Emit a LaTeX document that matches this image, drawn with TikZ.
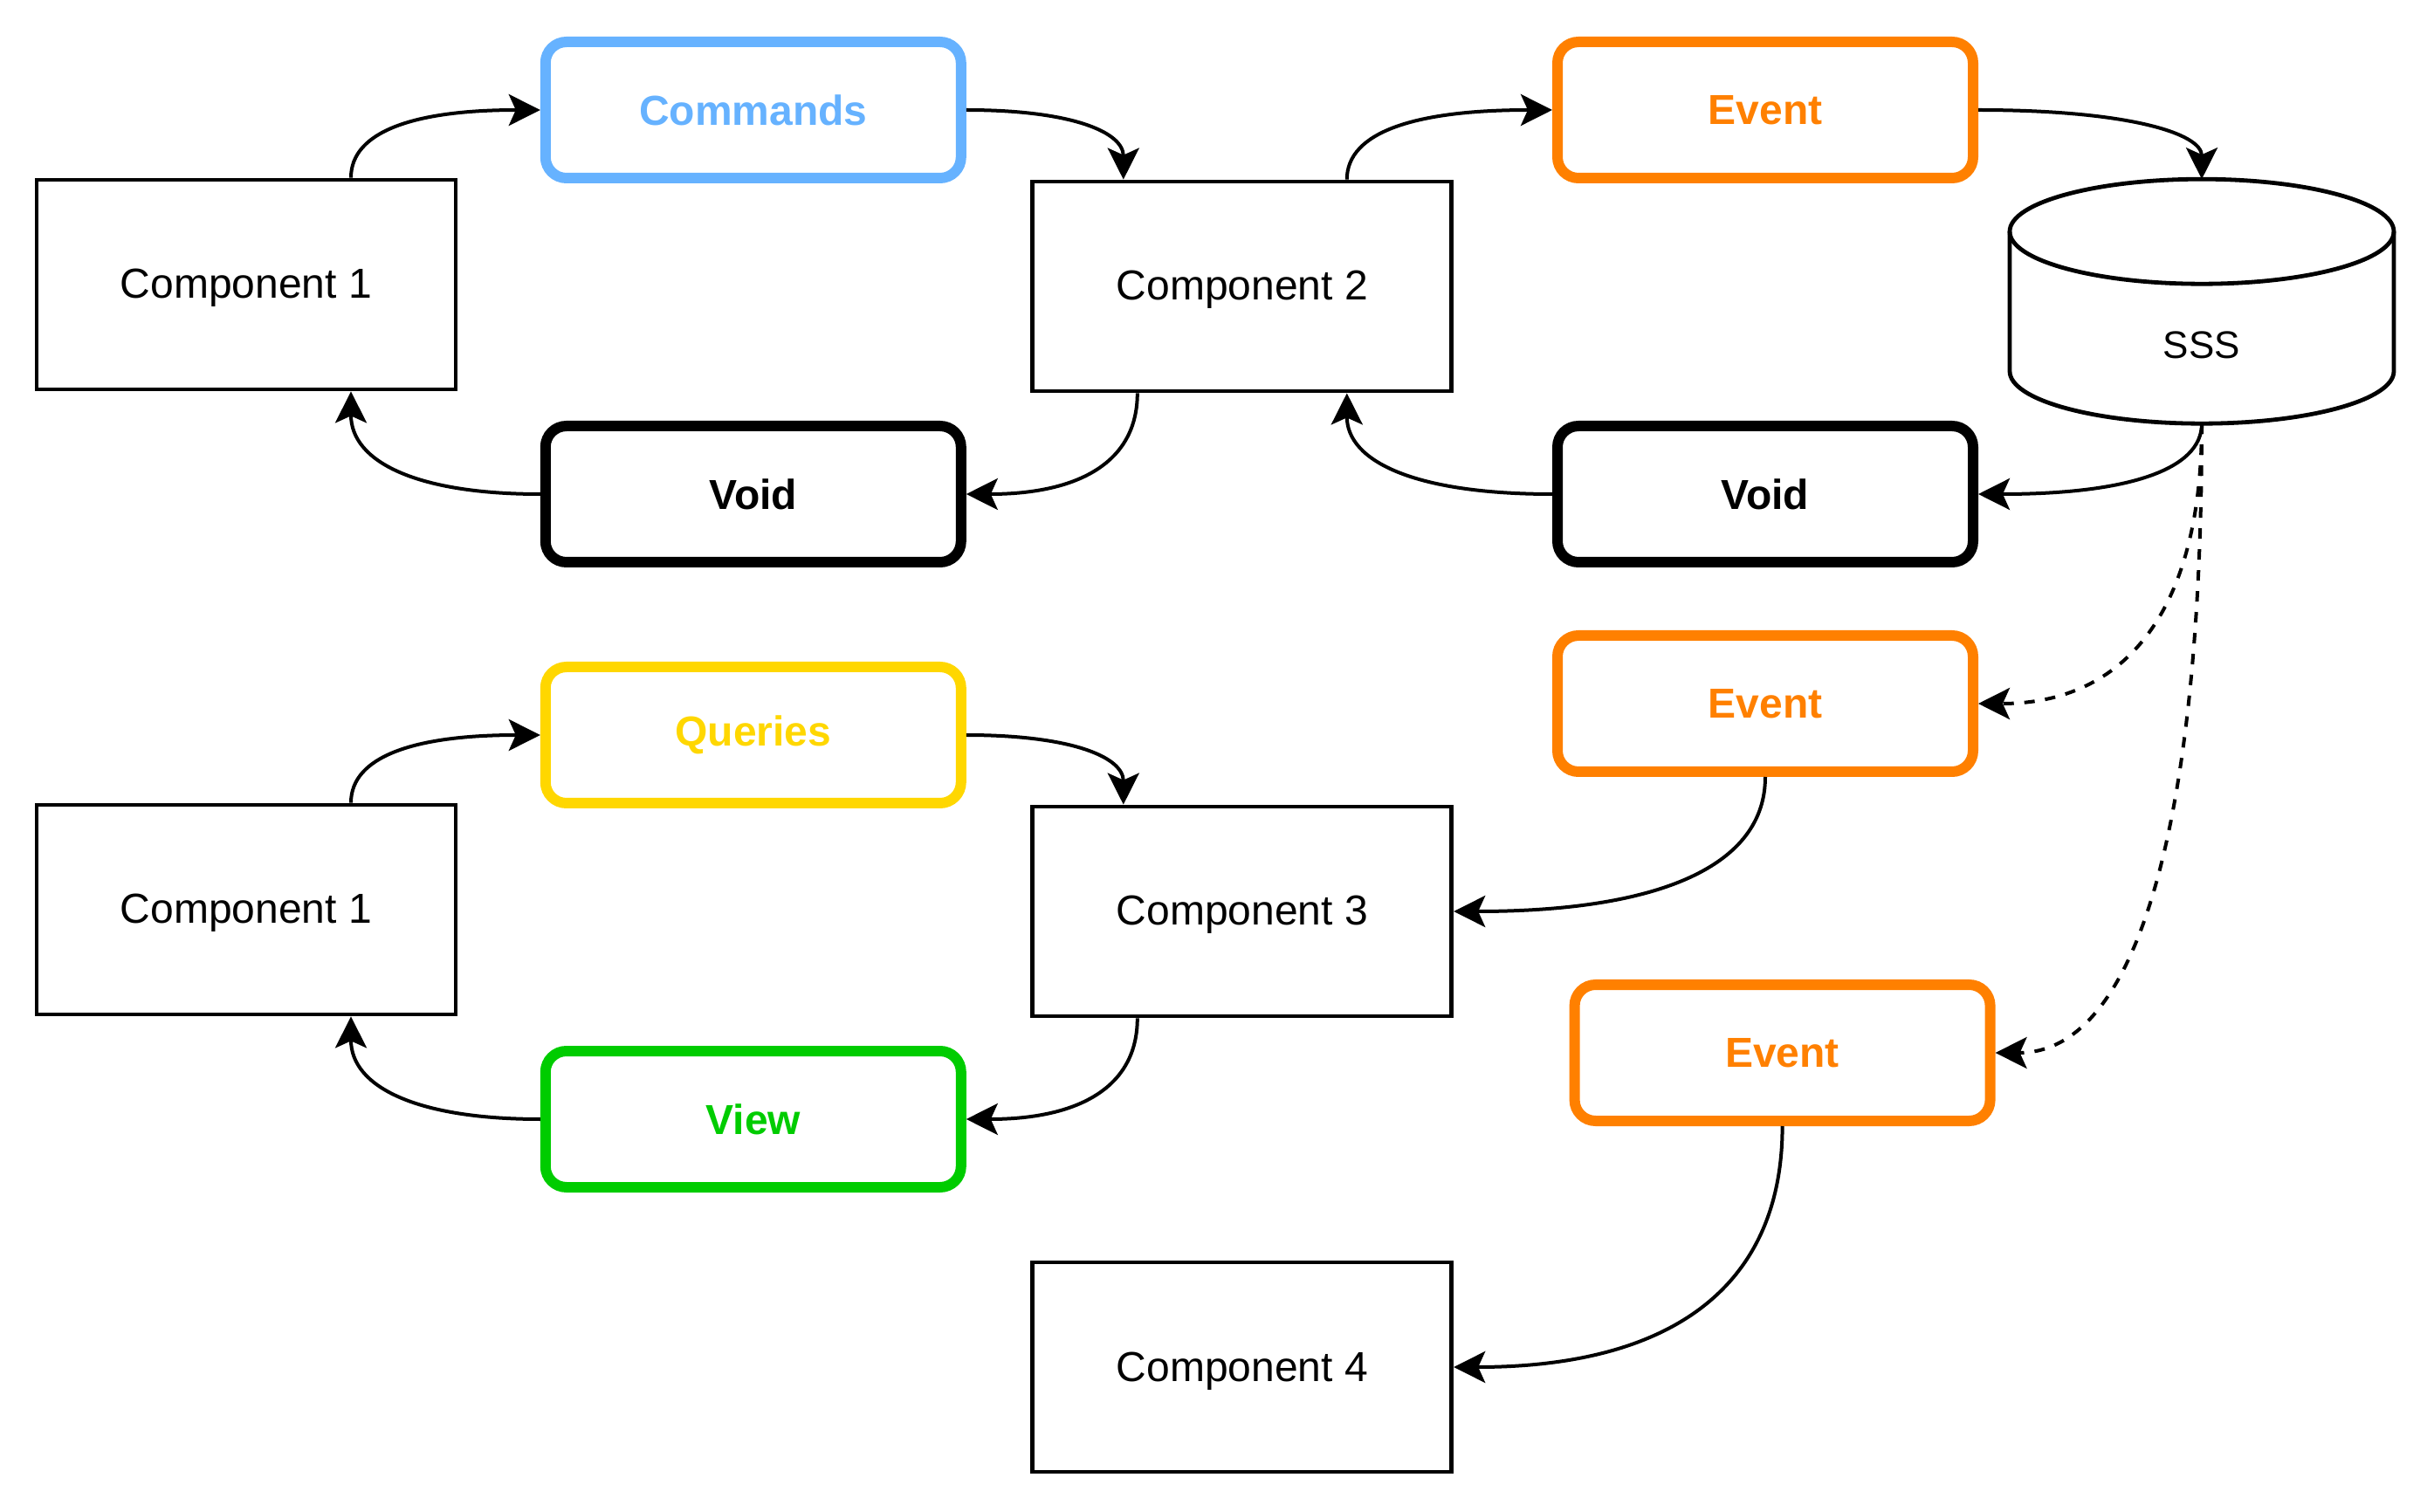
\documentclass[tikz,border=0pt]{standalone}
\usepackage{fontspec}
\setmainfont{Liberation Sans}
\usepackage{tikz}
\usetikzlibrary{arrows.meta}
\definecolor{cmdblue}{HTML}{66B2FF}
\definecolor{evorange}{HTML}{FF8000}
\definecolor{qryellow}{HTML}{FFD700}
\definecolor{viewgreen}{HTML}{00CC00}

\begin{document}
\begin{tikzpicture}[x=1pt, y=-1pt,
  comp/.style={draw, line width=1.2pt, minimum width=120pt, minimum height=60pt, inner sep=0pt, text height=10.5pt, text depth=2.5pt, font=\fontsize{12}{14}\selectfont},
  msg/.style={draw=#1, text=#1, line width=3pt, rounded corners=6pt, minimum width=119pt, minimum height=39pt, inner sep=0pt, font=\fontsize{12}{14}\selectfont\bfseries},
  store/.style={minimum width=110pt, minimum height=70pt, inner sep=0pt, outer sep=0pt},
  cyl/.style={line width=1.2pt},
  flow/.style={-{Stealth[length=9pt,width=9pt,inset=2pt]}, line width=1pt},
  feed/.style={flow, dash pattern=on 3pt off 3pt}]
  \useasboundingbox (0,0) rectangle (697,433);

  \node[comp] (c1) at (70.5,81.5) {Component 1};
  \node[msg=cmdblue] (cmd) at (215.7,31.5) {Commands};
  \node[comp] (c2) at (355.7,82) {Component 2};
  \node[msg=black] (void1) at (215.7,141.5) {Void};
  \node[msg=evorange] (ev1) at (505.5,31.5) {Event};
  \node[store, label={[name=ssstext, font=\fontsize{11}{13}\selectfont, yshift=-12.5pt]center:SSS}] (sss) at (630.5,86.3) {};
  \node[msg=black] (void2) at (505.5,141.5) {Void};
  \node[msg=evorange] (ev2) at (505.5,201.5) {Event};
  \node[comp] (c1b) at (70.5,260.5) {Component 1};
  \node[msg=qryellow] (qry) at (215.7,210.5) {Queries};
  \node[comp] (c3) at (355.7,261) {Component 3};
  \node[msg=viewgreen] (view) at (215.7,320.5) {View};
  \node[msg=evorange] (ev3) at (510.4,301.5) {Event};
  \node[comp] (c4) at (355.7,391.5) {Component 4};

  \draw[cyl] ([yshift=-15pt]sss.north) ellipse [x radius=55pt, y radius=15pt];
  \draw[cyl] ([yshift=-15pt]sss.north west) -- ([yshift=15pt]sss.south west)
    arc[start angle=180, end angle=360, x radius=55pt, y radius=15pt] -- ([yshift=-15pt]sss.north east);

  \path[flow]
    ([xshift=30pt]c1.north) edge[out=90, in=180, out distance=13.3pt, in distance=36pt] (cmd.west)
    (cmd.east) edge[out=0, in=90, out distance=29.8pt, in distance=13.7pt] ([xshift=-34pt]c2.north)
    ([xshift=-30pt]c2.south) edge[out=-90, in=0, out distance=19.7pt, in distance=32.3pt] (void1.east)
    (void1.west) edge[out=180, in=-90, out distance=35.8pt, in distance=20pt] ([xshift=30pt]c1.south)
    ([xshift=30pt]c2.north) edge[out=90, in=180, out distance=13.7pt, in distance=39pt] (ev1.west)
    (ev1.east) edge[out=0, in=90, out distance=42.3pt, in distance=13.2pt] (sss.north)
    (sss.south) edge[out=-90, in=0, out distance=13.4pt, in distance=42.3pt] (void2.east)
    (void2.west) edge[out=180, in=-90, out distance=39pt, in distance=19.7pt] ([xshift=30pt]c2.south)
    (ev2.south) edge[out=-90, in=0, out distance=25.3pt, in distance=59.3pt] (c3.east)
    (ev3.south) edge[out=-90, in=0, out distance=45.7pt, in distance=62.7pt] (c4.east)
    ([xshift=30pt]c1b.north) edge[out=90, in=180, out distance=13.3pt, in distance=36pt] (qry.west)
    (qry.east) edge[out=0, in=90, out distance=29.8pt, in distance=13.7pt] ([xshift=-34pt]c3.north)
    ([xshift=-30pt]c3.south) edge[out=-90, in=0, out distance=19.7pt, in distance=32.3pt] (view.east)
    (view.west) edge[out=180, in=-90, out distance=35.8pt, in distance=20pt] ([xshift=30pt]c1b.south);
  \path[feed]
    (sss.south) edge[out=-90, in=0, out distance=53.4pt, in distance=42.3pt] (ev2.east)
    (sss.south) edge[out=-90, in=0, out distance=120pt, in distance=39pt] (ev3.east);
\end{tikzpicture}
\end{document}
